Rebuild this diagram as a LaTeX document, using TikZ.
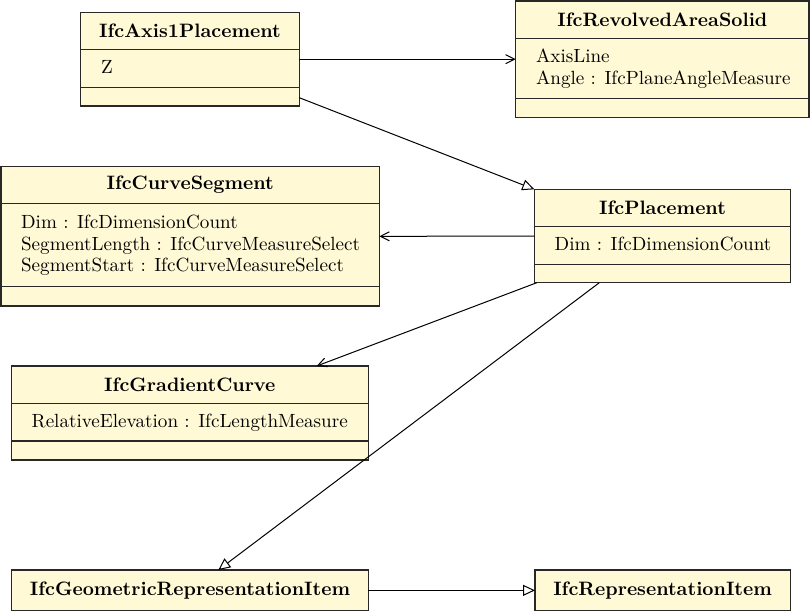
\documentclass[tikz,border=0pt]{standalone}
\usetikzlibrary{arrows.meta,calc,fit}
\definecolor{boxfill}{RGB}{255,249,213}
\definecolor{boxline}{RGB}{40,40,40}
\begin{document}
\begin{tikzpicture}[x=0.5pt,y=-0.5pt,
  box/.style={draw=boxline,fill=boxfill,line width=0.6pt,inner sep=0pt,outer sep=0pt},
  divider/.style={draw=boxline,line width=0.6pt},
  title/.style={font=\fontsize{9.7pt}{11.6pt}\selectfont\bfseries,inner sep=0pt,anchor=center},
  attr/.style={font=\fontsize{9.55pt}{11.5pt}\selectfont,inner sep=0pt,anchor=west,text height=7pt,text depth=2pt},
  assoc/.style={draw=black,line width=0.5pt,-{Straight Barb[length=4.5pt,width=4.5pt]}},
  inherit/.style={draw=black,line width=0.5pt,-{Triangle[open,length=6pt,width=5.5pt,fill=white]}}]
\useasboundingbox (0,0) rectangle (810,612);

% IfcAxis1Placement
\node[box,fit={(80.7,12.3)(299.3,106)}] (axis) {};
\draw[divider] (80.7,49.3) -- (299.3,49.3);
\draw[divider] (80.7,87.3) -- (299.3,87.3);
\node[title] (axisT) at (190,30.8) {IfcAxis1Placement};
\node[attr] (axisA) at (100.7,68.3) {Z};

% IfcRevolvedAreaSolid
\node[box,fit={(515.7,1)(809,117.3)}] (rev) {};
\draw[divider] (515.7,38.3) -- (809,38.3);
\draw[divider] (515.7,98.7) -- (809,98.7);
\node[title] (revT) at (662.4,19.5) {IfcRevolvedAreaSolid};
\node[attr] (revA1) at (535.7,57.7) {AxisLine};
\node[attr] (revA2) at (535.7,79.2) {Angle : IfcPlaneAngleMeasure};

% IfcCurveSegment
\node[box,fit={(1,166.7)(379.3,306)}] (cseg) {};
\draw[divider] (1,203.3) -- (379.3,203.3);
\draw[divider] (1,286.7) -- (379.3,286.7);
\node[title] (csegT) at (190.2,185) {IfcCurveSegment};
\node[attr] (csegA1) at (20.7,223.5) {Dim : IfcDimensionCount};
\node[attr] (csegA2) at (20.7,245) {SegmentLength : IfcCurveMeasureSelect};
\node[attr] (csegA3) at (20.7,266.5) {SegmentStart : IfcCurveMeasureSelect};

% IfcPlacement
\node[box,fit={(534.3,189.3)(790.7,282.7)}] (place) {};
\draw[divider] (534.3,226.7) -- (790.7,226.7);
\draw[divider] (534.3,264.3) -- (790.7,264.3);
\node[title] (placeT) at (662.5,208) {IfcPlacement};
\node[attr] (placeA) at (554.3,245.5) {Dim : IfcDimensionCount};

% IfcGradientCurve
\node[box,fit={(11.3,366)(368.3,460)}] (grad) {};
\draw[divider] (11.3,403.3) -- (368.3,403.3);
\draw[divider] (11.3,441) -- (368.3,441);
\node[title] (gradT) at (189.8,384.7) {IfcGradientCurve};
\node[attr] (gradA) at (31.3,422.2) {RelativeElevation : IfcLengthMeasure};

% IfcGeometricRepresentationItem
\node[box,fit={(11.7,570)(368.3,610.7)}] (geo) {};
\node[title] (geoT) at (190,590.3) {IfcGeometricRepresentationItem};

% IfcRepresentationItem
\node[box,fit={(535,570)(790.3,610.7)}] (rep) {};
\node[title] (repT) at (662.6,590.3) {IfcRepresentationItem};

% connectors
\draw[assoc] (axis.east) -- (rev.west);
\draw[inherit] ($(axis.south east)+(0,-8.3)$) -- (place.north west);
\draw[assoc] (place.west) -- (cseg.east);
\draw[assoc] ($(place.south west)+(2.5,0)$) -- ($(grad.north west)+(305.4,0)$);
\draw[inherit] ($(place.south west)+(65,0)$) -- ($(geo.north west)+(206.6,0)$);
\draw[inherit] (geo.east) -- (rep.west);
\end{tikzpicture}
\end{document}
